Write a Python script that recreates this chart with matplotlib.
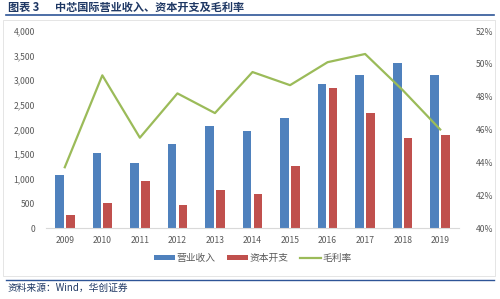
import matplotlib
matplotlib.use("Agg")
import matplotlib.pyplot as plt
import numpy as np
from matplotlib.ticker import FuncFormatter

plt.rcParams['font.family'] = ['Noto Sans CJK SC', 'DejaVu Sans']

years = ['2009', '2010', '2011', '2012', '2013', '2014', '2015', '2016', '2017', '2018', '2019']
revenue = [1068, 1523, 1312, 1698, 2063, 1965, 2236, 2914, 3101, 3360, 3116]
capex = [268, 507, 954, 472, 766, 700, 1260, 2843, 2330, 1827, 1880]
margin = [43.7, 49.3, 45.5, 48.2, 47.0, 49.5, 48.7, 50.1, 50.6, 48.4, 46.0]

W, H = 500, 299
fig = plt.figure(figsize=(W / 100, H / 100), dpi=100)

def fy(y):
    return 1 - y / H

# title
fig.text(8 / W, fy(7), '图表 3', fontsize=8, fontweight='bold', color='#1F3864',
         va='center', ha='left')
fig.text(55 / W, fy(7), '中芯国际营业收入、资本开支及毛利率', fontsize=8,
         fontweight='bold', color='#1F3864', va='center', ha='left')
fig.add_artist(plt.Line2D([6 / W, 494 / W], [fy(15), fy(15)], color='#2E5597', lw=1.2))
# chart frame
fig.add_artist(plt.Rectangle((3 / W, fy(276)), 492 / W, 256 / H, fill=False,
                             ec='#E0E0E0', lw=0.6))
# bottom line and source
fig.add_artist(plt.Line2D([6 / W, 494 / W], [fy(279.5), fy(279.5)], color='#2E5597', lw=1.0))
fig.text(8 / W, fy(288), '资料来源：Wind，华创证券', fontsize=7, style='italic',
         color='#1F3864', va='center', ha='left')

left, right, top, bottom = 46, 459, 31, 228
ax = fig.add_axes([left / W, fy(bottom), (right - left) / W, (bottom - top) / H])
x = np.arange(len(years))
bw = 0.23
off = 0.145
ax.bar(x - off, revenue, bw, color='#4F81BD', label='营业收入', zorder=2)
ax.bar(x + off, capex, bw, color='#C0504D', label='资本开支', zorder=2)
ax.set_ylim(0, 4000)
ax.set_yticks(np.arange(0, 4001, 500))
ax.yaxis.set_major_formatter(FuncFormatter(lambda v, p: f'{int(v):,}'))
ax.set_xlim(-0.5, len(years) - 0.5)
ax.set_xticks(x)
ax.set_xticklabels(years)
for s in ['top', 'right', 'left']:
    ax.spines[s].set_visible(False)
ax.spines['bottom'].set_color('#D9D9D9')
ax.tick_params(axis='both', length=0, labelsize=6.2, colors='#595959', pad=6)
ax.tick_params(axis='y', pad=8)

ax2 = ax.twinx()
ax2.plot(x, margin, color='#9BBB59', lw=1.6, label='毛利率', zorder=3)
ax2.set_ylim(40, 52)
ax2.set_yticks(np.arange(40, 53, 2))
ax2.yaxis.set_major_formatter(FuncFormatter(lambda v, p: f'{int(v)}%'))
for s in ['top', 'right', 'left', 'bottom']:
    ax2.spines[s].set_visible(False)
ax2.tick_params(axis='y', length=0, labelsize=6.2, colors='#595959', pad=12)

h1, l1 = ax.get_legend_handles_labels()
h2, l2 = ax2.get_legend_handles_labels()
fig.legend(h1 + h2, l1 + l2, loc='center', bbox_to_anchor=(253 / W, fy(258)), ncol=3,
           frameon=False, fontsize=7, handlelength=2.1, handleheight=0.5,
           columnspacing=1.2, handletextpad=0.2, labelcolor='#595959')

fig.savefig('out.png', dpi=100)
